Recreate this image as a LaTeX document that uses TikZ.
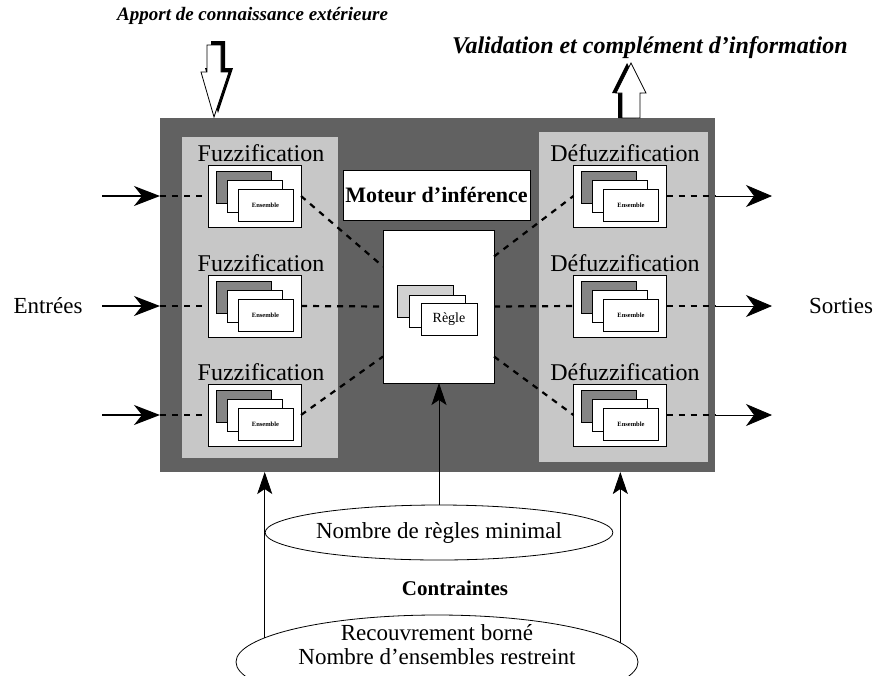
\documentclass[tikz,border=0pt]{standalone}
\usepackage{fontspec}
\setmainfont{Liberation Serif}
\usetikzlibrary{arrows.meta,positioning,shapes.geometric,calc}
\definecolor{darkfill}{gray}{0.38}
\definecolor{panelfill}{gray}{0.78}
\definecolor{cardfill}{gray}{0.52}
\definecolor{hatchfill}{gray}{0.82}
\tikzset{
  sysbox/.style={rectangle, fill=darkfill, inner sep=0pt, outer sep=0pt, minimum width=555pt, minimum height=354pt},
  panel/.style={rectangle, fill=panelfill, inner sep=0pt, outer sep=0pt},
  whitebox/.style={rectangle, draw=black, fill=white, inner sep=0pt, outer sep=0pt},
  ensframe/.style={whitebox, line width=1pt, minimum width=93pt, minimum height=62pt},
  card/.style={whitebox, line width=0.8pt, minimum width=55pt, minimum height=32pt},
  stage/.style={inner sep=0pt, font=\fontsize{24}{26}\selectfont},
  lbl/.style={inner sep=0pt, font=\fontsize{23}{26}\selectfont},
  headline/.style={inner sep=0pt, anchor=west},
  flow/.style={line width=2.2pt, dash pattern=on 6pt off 6pt},
  feed/.style={-{Stealth[length=26pt,width=20pt,inset=8pt]}, line width=1.6pt},
  emit/.style={-{Stealth[length=26pt,width=22pt,inset=8pt]}, line width=0.8pt},
  lift/.style={-{Stealth[length=22pt,width=15pt,inset=5pt]}, line width=0.8pt},
  oval/.style={ellipse, draw=black, line width=0.8pt, inner sep=0pt, outer sep=0pt},
  block/.style={fill=white, draw=black, line width=0.8pt, line join=miter},
}
\newcommand{\ensstack}[3]{% frame name, x, y
  \node[ensframe] (#1) at (#2,#3) {};
  \node[card, fill=cardfill] (#1b) at ($(#1)+(-11,-9)$) {};
  \node[card] (#1m) at (#1) {};
  \node[card, font=\fontsize{6.5}{7}\selectfont\bfseries] (#1t) at ($(#1)+(11,9)$) {Ensemble};}

\begin{document}
\begin{tikzpicture}[x=1pt,y=-1pt]
  \useasboundingbox (0,0) rectangle (877,675);
  % system block
  \node[sysbox] (sys) at (437.5,295) {};
  \node[panel, minimum width=156pt, minimum height=321pt] (fz) at (260,297.5) {};
  \node[panel, minimum width=169pt, minimum height=330pt] (dfz) at (623.5,297) {};
  \node[whitebox, minimum width=187pt, minimum height=50pt, font=\fontsize{22}{24}\selectfont\bfseries] (mot) at (436.5,195) {Moteur d’inférence};
  \node[whitebox, minimum width=111pt, minimum height=153pt] (rg) at (438.5,306.5) {};
  \node[card, fill=hatchfill, minimum width=56pt] (rgb) at (425.5,301) {};
  \node[card, minimum width=56pt] (rgm) at (437.5,311) {};
  \node[card, minimum width=56pt, font=\fontsize{14}{16}\selectfont] (rgt) at (449,319.5) {Règle};
  \foreach \i/\yy in {1/196,2/306,3/415}{
    \node[stage] (fl\i) at (261,\yy-43) {Fuzzification};
    \ensstack{f\i}{254.5}{\yy}
    \node[stage] (dl\i) at (625,\yy-43) {Défuzzification};
    \ensstack{d\i}{620}{\yy}
  }
  % inputs and outputs
  \coordinate (src) at (102,0);
  \coordinate (snk) at (772,0);
  \foreach \i in {1,2,3}{
    \draw[feed] (src |- f\i.west) -- (sys.west |- f\i.west);
    \draw[flow] (sys.west |- f\i.west) -- (f\i.west);
    \draw[flow] (d\i.east) -- (sys.east |- d\i.east);
    \draw[emit] (sys.east |- d\i.east) -- (snk |- d\i.east);
  }
  \draw[flow] (f1.east) -- ([yshift=40pt]rg.west);
  \draw[flow] (f2.east) -- (rg.west);
  \draw[flow] (f3.east) -- ([yshift=-50pt]rg.west);
  \draw[flow] ([yshift=50pt]rg.east) -- (d1.west);
  \draw[flow] (rg.east) -- (d2.west);
  \draw[flow] ([yshift=-50pt]rg.east) -- (d3.west);
  \node[lbl] (ent) at (48,306) {Entrées};
  \node[lbl] (sor) at (841,306) {Sorties};
  % knowledge arrows
  \node[headline, font=\fontsize{19}{22}\selectfont\bfseries\itshape] (apport) at (117,16) {Apport de connaissance extérieure};
  \node[headline, font=\fontsize{24}{26}\selectfont\bfseries\itshape] (valid) at (452,48) {Validation et complément d’information};
  \fill[black] (211,41) -- (225,41) -- (225,68) -- (233,68) -- (218,113) -- (205,68) -- (211,68) -- cycle;
  \draw[block] (207,45) -- (221,45) -- (221,72) -- (229,72) -- (214,117) -- (201,72) -- (207,72) -- cycle;
  \fill[black] (618,118) -- (618,93) -- (612,93) -- (627,63) -- (642,93) -- (636,93) -- (636,118) -- cycle;
  \draw[block] (622,118) -- (622,93) -- (616,93) -- (631,63) -- (646,93) -- (640,93) -- (640,118) -- cycle;
  % constraints
  \node[oval, minimum width=318pt, minimum height=55pt, font=\fontsize{23}{26}\selectfont] (nr) at (439,532.5) {Nombre de règles minimal};
  \node[inner sep=0pt, font=\fontsize{21}{24}\selectfont\bfseries] (ctr) at (455,588) {Contraintes};
  \node[oval, minimum width=402pt, minimum height=94pt] (rc) at (437,662) {};
  \node[lbl, align=center, font=\fontsize{23}{24}\selectfont] (rct) at (437,645) {Recouvrement borné\\Nombre d’ensembles restreint};
  \draw[lift] (rc.172) -- (rc.172 |- sys.south);
  \draw[lift] (rc.6) -- (rc.6 |- sys.south);
  \draw[lift] (nr.north) -- (nr.north |- rg.south);
\end{tikzpicture}
\end{document}
